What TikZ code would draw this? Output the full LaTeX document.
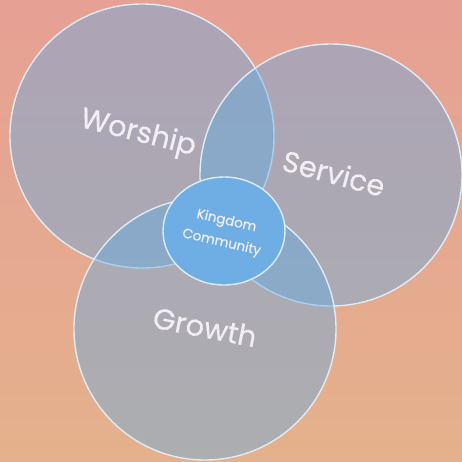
\documentclass[tikz,border=0pt]{standalone}
\usepackage{fontspec}
\setmainfont{Poppins}
\newfontfamily\vennfont{Poppins}[FakeBold=0.5]
\usepackage{xcolor}
\usetikzlibrary{positioning, shapes.geometric}

\definecolor{bgtop}{RGB}{230,160,148}
\definecolor{bgbottom}{RGB}{228,177,140}
\definecolor{venfill}{RGB}{88,170,232}
\definecolor{venline}{RGB}{222,236,246}
\definecolor{corefill}{RGB}{110,174,228}
\definecolor{labeltext}{RGB}{242,238,244}

\begin{document}
\begin{tikzpicture}[
		x=1pt, y=-1pt,
		venn/.style={circle, draw=venline, line width=1.4pt, fill=venfill, fill opacity=0.4, inner sep=0pt},
		core/.style={ellipse, draw=venline, line width=1.4pt, fill=corefill, inner sep=0pt},
		biglabel/.style={text=labeltext, font=\vennfont\fontsize{29}{32}\selectfont},
		smalllabel/.style={text=labeltext, font=\vennfont\fontsize{13.5}{22}\selectfont, align=center}
		]
		
		% ==========================================
		% BACKGROUND
		% ==========================================
		\shade[top color=bgtop, bottom color=bgbottom] (0,0) rectangle (462,461);
		\useasboundingbox (0,0) rectangle (462,461);
		
		% ==========================================
		% THREE CIRCLES
		% ==========================================
		\node[venn, minimum size=264pt] (worship) at (142,136) {};
		\node[venn, minimum size=262pt] (service) at (331,175) {};
		\node[venn, minimum size=262pt] (growth) at (205,329) {};
		
		% ==========================================
		% CENTRE
		% ==========================================
		\node[core, minimum width=122pt, minimum height=108pt] (kingdom) at (224,231) {};
		
		% ==========================================
		% LABELS
		% ==========================================
		\node[biglabel, rotate=-14] (worshiplabel) at (138,134) {Worship};
		\node[biglabel, rotate=-15] (servicelabel) at (334,173) {Service};
		\node[biglabel, rotate=-11] (growthlabel) at (205,327) {Growth};
		\node[smalllabel, rotate=-13] (kingdomlabel) at (224,232) {Kingdom\\Community};
		
	\end{tikzpicture}
\end{document}
